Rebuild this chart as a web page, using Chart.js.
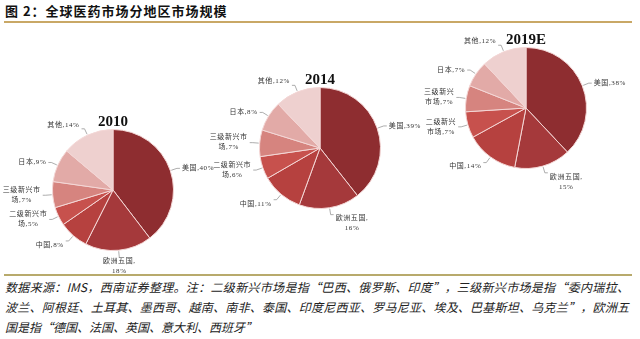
<!DOCTYPE html>
<html>
<head>
<meta charset="utf-8">
<script src="https://cdn.jsdelivr.net/npm/chart.js@4.4.0/dist/chart.umd.min.js"></script>
<style>
  body { margin: 0; width: 640px; height: 339px; background: #fff; position: relative; overflow: hidden;
         font-family: "Noto Sans CJK SC", sans-serif; }
  .title { position: absolute; left: 5px; top: 2px; font-size: 13px; font-weight: bold; letter-spacing: 1px;
           color: #111; line-height: 18px; }
  .rule { position: absolute; left: 4px; width: 628px; height: 2px; }
  .rule.top { top: 21px; background: #c9a866; }
  .rule.bottom { top: 274px; background: #b8aa6c; }
  .note { position: absolute; left: 5px; top: 277px; width: 624px; font-size: 12px; line-height: 20px;
          font-style: italic; color: #222; }
  .note div { text-align: justify; text-align-last: justify; white-space: nowrap; }
  .note div:last-child { text-align-last: left; }
  canvas { position: absolute; }
</style>
</head>
<body>
<div class="title">图 2：全球医药市场分地区市场规模</div>
<div class="rule top"></div>
<div class="rule bottom"></div>
<div class="note">
  <div>数据来源：IMS，西南证券整理。注：二级新兴市场是指“巴西、俄罗斯、印度”，三级新兴市场是指“委内瑞拉、</div>
  <div>波兰、阿根廷、土耳其、墨西哥、越南、南非、泰国、印度尼西亚、罗马尼亚、埃及、巴基斯坦、乌克兰”，欧洲五</div>
  <div>国是指“德国、法国、英国、意大利、西班牙”</div>
</div>
<canvas id="pie2010" width="260" height="240"></canvas>
<canvas id="pie2014" width="260" height="240"></canvas>
<canvas id="pie2019" width="260" height="240"></canvas>
<script>
// data (share of global pharma market, %)
const categories = ['美国', '欧洲五国', '中国', '二级新兴市场', '三级新兴市场', '日本', '其他'];
const years = ['2010', '2014', '2019E'];
const share2010 = [40, 18, 8, 5, 7, 9, 14];
const share2014 = [39, 16, 11, 6, 7, 8, 12];
const share2019 = [38, 15, 14, 7, 7, 7, 12];

const sliceColors = ['#8e2d30', '#a5393b', '#b6413f', '#c7514d', '#d6847f', '#e2aaa7', '#eed0cf'];

// where each pie sits on the page
const pies = [
  { id: 'pie2010', year: years[0], values: share2010, cx: 113, cy: 190, wrap: 5 },
  { id: 'pie2014', year: years[1], values: share2014, cx: 320, cy: 148, wrap: 5 },
  { id: 'pie2019', year: years[2], values: share2019, cx: 526, cy: 108, wrap: 4 },
];
const R = 61;

function labelLines(name, value, wrap) {
  const tail = ',' + value + '%';
  if (name.length < 4) return [name + tail];
  if (name.length <= wrap) return [name + ',', value + '%'];
  return [name.slice(0, wrap), name.slice(wrap) + tail];
}

const outerLabels = {
  id: 'outerLabels',
  afterDatasetsDraw(chart, args, opts) {
    const ctx = chart.ctx;
    const meta = chart.getDatasetMeta(0);
    const values = chart.data.datasets[0].data;
    const lineH = 10;
    ctx.save();
    ctx.font = '7px "Liberation Serif", "Noto Sans CJK SC"';
    ctx.letterSpacing = '0.6px';
    ctx.fillStyle = '#333';
    ctx.strokeStyle = '#8a8a8a';
    ctx.lineWidth = 0.7;
    ctx.textBaseline = 'middle';
    ctx.textAlign = 'center';
    let cx = 0, cy = 0, r = 0;
    meta.data.forEach((arc, i) => {
      const p = arc.getProps(['x', 'y', 'startAngle', 'endAngle', 'outerRadius'], true);
      cx = p.x; cy = p.y; r = p.outerRadius;
      const mid = (p.startAngle + p.endAngle) / 2;
      const dx = Math.cos(mid), dy = Math.sin(mid);
      const side = dx > 0.15 ? 1 : (dx < -0.15 ? -1 : 0);
      const x0 = cx + (r + 1) * dx, y0 = cy + (r + 1) * dy;
      const x1 = cx + (r + 7) * dx, y1 = cy + (r + 7) * dy;
      const x2 = x1 + side * 3;
      ctx.beginPath();
      ctx.moveTo(x0, y0);
      ctx.lineTo(x1, y1);
      if (side) ctx.lineTo(x2, y1);
      ctx.stroke();

      const lines = labelLines(chart.data.labels[i], values[i], opts.wrap);
      const w = Math.max(...lines.map(t => ctx.measureText(t).width));
      let left;
      if (side > 0) left = x2 + 2;
      else if (side < 0) left = x2 - 2 - w;
      else left = x1 - w / 2;
      let ty;
      if (dy > 0.7) ty = y1 + 4;
      else if (dy < -0.7) ty = y1 - 4 - (lines.length - 1) * lineH;
      else ty = y1 - (lines.length - 1) * lineH / 2;
      lines.forEach((t, k) => ctx.fillText(t, left + w / 2, ty + k * lineH));
    });
    // year caption above the pie
    ctx.font = 'bold 15px "Liberation Serif"';
    ctx.letterSpacing = '0px';
    ctx.fillStyle = '#111';
    ctx.fillText(opts.year, cx, cy - r - 7);
    ctx.restore();
  }
};

pies.forEach(cfg => {
  const canvas = document.getElementById(cfg.id);
  canvas.style.left = (cfg.cx - canvas.width / 2) + 'px';
  canvas.style.top = (cfg.cy - canvas.height / 2) + 'px';
  const padX = canvas.width / 2 - R, padY = canvas.height / 2 - R;
  new Chart(canvas, {
    type: 'pie',
    data: {
      labels: categories,
      datasets: [{
        data: cfg.values,
        backgroundColor: sliceColors,
        borderColor: '#f3d6d5',
        borderWidth: 1,
      }]
    },
    options: {
      responsive: false,
      animation: false,
      events: [],
      layout: { padding: { left: padX, right: padX, top: padY, bottom: padY } },
      plugins: {
        legend: { display: false },
        tooltip: { enabled: false },
        outerLabels: { year: cfg.year, wrap: cfg.wrap },
      },
    },
    plugins: [outerLabels],
  });
});
</script>
</body>
</html>
